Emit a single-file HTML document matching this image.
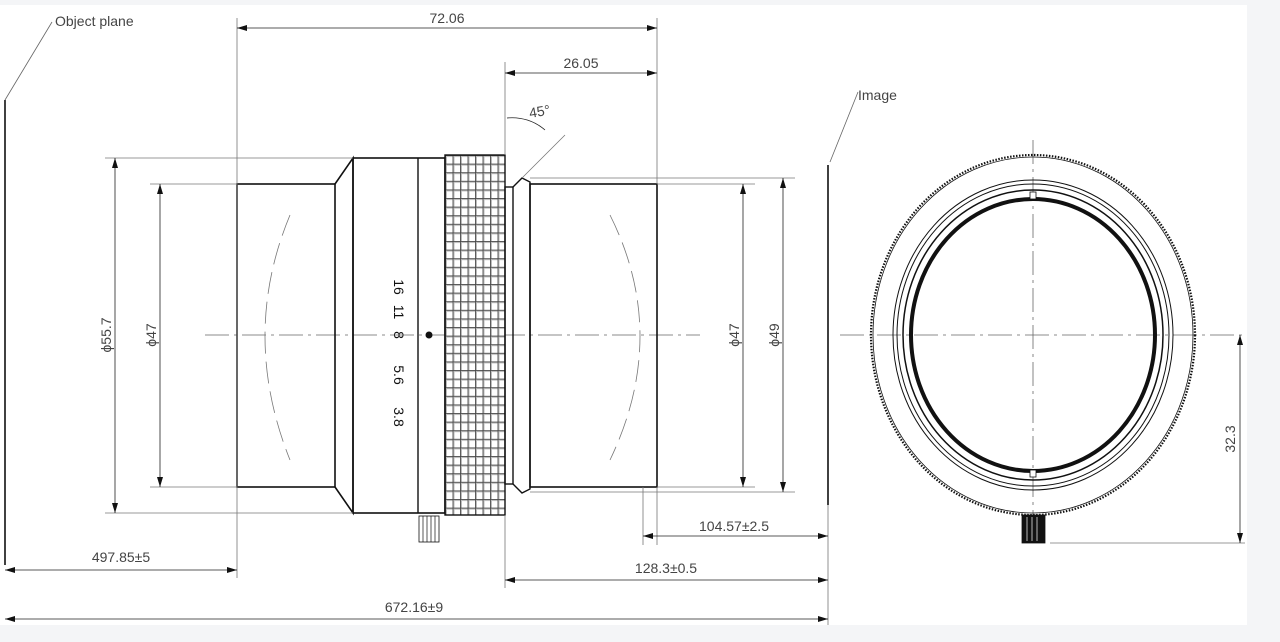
<!DOCTYPE html>
<html><head><meta charset="utf-8"><style>
html,body{margin:0;padding:0;background:#f4f5f7;}
svg{display:block}
text{font-family:"Liberation Sans Narrow","Liberation Sans",sans-serif;fill:#444;font-size:14px}
</style></head><body>
<svg width="1280" height="642" viewBox="0 0 1280 642" xmlns="http://www.w3.org/2000/svg">
<defs>
<marker id="a" viewBox="0 0 10 6" refX="10" refY="3" markerWidth="14" markerHeight="6" markerUnits="userSpaceOnUse" orient="auto-start-reverse"><path d="M0,0L10,3L0,6z" fill="#111"/></marker>
<pattern id="kn" x="445" y="155" width="7.5" height="8.6" patternUnits="userSpaceOnUse">
<rect width="7.5" height="8.6" fill="#fff"/><rect x="0" y="0" width="2" height="8.6" fill="#bbb"/><rect x="0" y="0" width="7.5" height="2" fill="#bbb"/><line x1="0.5" y1="0" x2="0.5" y2="8.6" stroke="#444" stroke-width="0.8"/><line x1="0" y1="0.5" x2="7.5" y2="0.5" stroke="#444" stroke-width="0.8"/>
</pattern>
</defs>
<rect x="0" y="5" width="1247" height="620" fill="#fff"/>
<g stroke="#111" fill="none">
<line x1="205" y1="335" x2="700" y2="335" stroke="#666" stroke-width="0.8" stroke-dasharray="24,5,3,5"/>
<line x1="840" y1="335" x2="1245" y2="335" stroke="#666" stroke-width="0.8" stroke-dasharray="24,5,3,5"/>
<line x1="1033" y1="140" x2="1033" y2="530" stroke="#666" stroke-width="0.8" stroke-dasharray="24,5,3,5"/>
<rect x="237" y="184" width="98" height="303" stroke-width="1.6"/>
<path d="M335,184L353,158L353,513L335,487" stroke-width="1.6"/>
<rect x="353" y="158" width="92" height="355" stroke-width="1.6"/>
<line x1="418" y1="158" x2="418" y2="513" stroke-width="1.4"/>
<rect x="445" y="155" width="60" height="360" fill="url(#kn)" stroke-width="1.4"/>
<rect x="505" y="187" width="8" height="297" stroke-width="1.4"/>
<path d="M513,187L522,178L530,182L530,489L522,493L513,484" stroke-width="1.4"/>
<rect x="530" y="184" width="127" height="303" stroke-width="1.6"/>
<circle cx="429" cy="335" r="3.5" fill="#111" stroke="none"/>
<rect x="419" y="516" width="20" height="26" stroke-width="0.8"/>
<g stroke-width="0.7"><line x1="423" y1="516" x2="423" y2="542"/><line x1="427" y1="516" x2="427" y2="542"/><line x1="431" y1="516" x2="431" y2="542"/><line x1="435" y1="516" x2="435" y2="542"/></g>
<path d="M290,215Q240,335 290,460" stroke="#777" stroke-width="0.8" stroke-dasharray="22,8"/>
<path d="M610,215Q670,335 610,460" stroke="#777" stroke-width="0.8" stroke-dasharray="22,8"/>
<line x1="5" y1="100" x2="5" y2="565" stroke-width="1.6"/>
<line x1="828" y1="165" x2="828" y2="505" stroke-width="1.6"/>
<line x1="5" y1="100" x2="52" y2="22" stroke="#666" stroke-width="0.8"/>
<line x1="830" y1="162" x2="858" y2="92" stroke="#666" stroke-width="0.8"/>
<g stroke="#777" stroke-width="0.8">
<line x1="237" y1="18" x2="237" y2="578"/><line x1="657" y1="18" x2="657" y2="184"/><line x1="657" y1="487" x2="657" y2="545"/>
<line x1="505" y1="62" x2="505" y2="155"/><line x1="505" y1="515" x2="505" y2="588"/>
<line x1="105" y1="158" x2="353" y2="158"/><line x1="105" y1="513" x2="353" y2="513"/>
<line x1="150" y1="184" x2="237" y2="184"/><line x1="150" y1="487" x2="237" y2="487"/>
<line x1="657" y1="184" x2="755" y2="184"/><line x1="657" y1="487" x2="755" y2="487"/>
<line x1="530" y1="178" x2="795" y2="178"/><line x1="530" y1="492" x2="795" y2="492"/>
<line x1="643" y1="487" x2="643" y2="545"/><line x1="828" y1="505" x2="828" y2="625"/>
<line x1="1050" y1="543" x2="1245" y2="543"/>
<line x1="522" y1="178" x2="565" y2="135"/>
</g>
<g stroke="#222" stroke-width="0.8" marker-start="url(#a)" marker-end="url(#a)">
<line x1="237" y1="28" x2="657" y2="28"/>
<line x1="505" y1="73" x2="657" y2="73"/>
<line x1="115" y1="158" x2="115" y2="513"/>
<line x1="160" y1="184" x2="160" y2="487"/>
<line x1="743" y1="184" x2="743" y2="487"/>
<line x1="783" y1="178" x2="783" y2="492"/>
<line x1="643" y1="536" x2="828" y2="536"/>
<line x1="5" y1="570" x2="237" y2="570"/>
<line x1="505" y1="580" x2="828" y2="580"/>
<line x1="5" y1="619" x2="828" y2="619"/>
<line x1="1240" y1="335" x2="1240" y2="543"/>
</g>
<path d="M507,118A50,50 0 0 1 545,130" stroke="#222" stroke-width="0.8"/>
<ellipse cx="1033" cy="335" rx="162" ry="180" stroke-width="2.2" stroke-dasharray="1.5,1.5"/>
<ellipse cx="1033" cy="335" rx="160" ry="178" stroke-width="0.8"/>
<ellipse cx="1033" cy="335" rx="140" ry="155" stroke-width="1"/>
<ellipse cx="1033" cy="335" rx="136" ry="151" stroke-width="1"/>
<ellipse cx="1033" cy="335" rx="130" ry="145" stroke-width="1.5"/>
<ellipse cx="1033" cy="335" rx="122" ry="136" stroke-width="4"/>
<rect x="1030" y="192" width="6" height="7" stroke-width="0.8" fill="#fff"/>
<rect x="1030" y="470" width="6" height="7" stroke-width="0.8" fill="#fff"/>
<rect x="1022" y="515" width="23" height="28" fill="#111" stroke-width="0.8"/>
</g>
<g stroke="#fff" stroke-width="0.7"><line x1="1027" y1="517" x2="1027" y2="541"/><line x1="1032" y1="517" x2="1032" y2="541"/><line x1="1037" y1="517" x2="1037" y2="541"/></g>
<text x="55" y="26">Object plane</text>
<text x="858" y="100">Image</text>
<text x="447" y="23" text-anchor="middle">72.06</text>
<text x="581" y="68" text-anchor="middle">26.05</text>
<text x="530" y="118" transform="rotate(-10 530 118)">45°</text>
<text x="734" y="531" text-anchor="middle">104.57±2.5</text>
<text x="121" y="562" text-anchor="middle">497.85±5</text>
<text x="666" y="573" text-anchor="middle">128.3±0.5</text>
<text x="414" y="612" text-anchor="middle">672.16±9</text>
<text transform="translate(111 335) rotate(-90)" text-anchor="middle">ϕ55.7</text>
<text transform="translate(156 335) rotate(-90)" text-anchor="middle">ϕ47</text>
<text transform="translate(739 335) rotate(-90)" text-anchor="middle">ϕ47</text>
<text transform="translate(779 335) rotate(-90)" text-anchor="middle">ϕ49</text>
<text transform="translate(1235 439) rotate(-90)" text-anchor="middle">32.3</text>
<g style="font-size:16px">
<text transform="translate(394 287) rotate(90)" text-anchor="middle" style="fill:#111">16</text>
<text transform="translate(394 312) rotate(90)" text-anchor="middle" style="fill:#111">11</text>
<text transform="translate(394 335) rotate(90)" text-anchor="middle" style="fill:#111">8</text>
<text transform="translate(394 375) rotate(90)" text-anchor="middle" style="fill:#111">5.6</text>
<text transform="translate(394 417) rotate(90)" text-anchor="middle" style="fill:#111">3.8</text>
</g>
</svg>
</body></html>
